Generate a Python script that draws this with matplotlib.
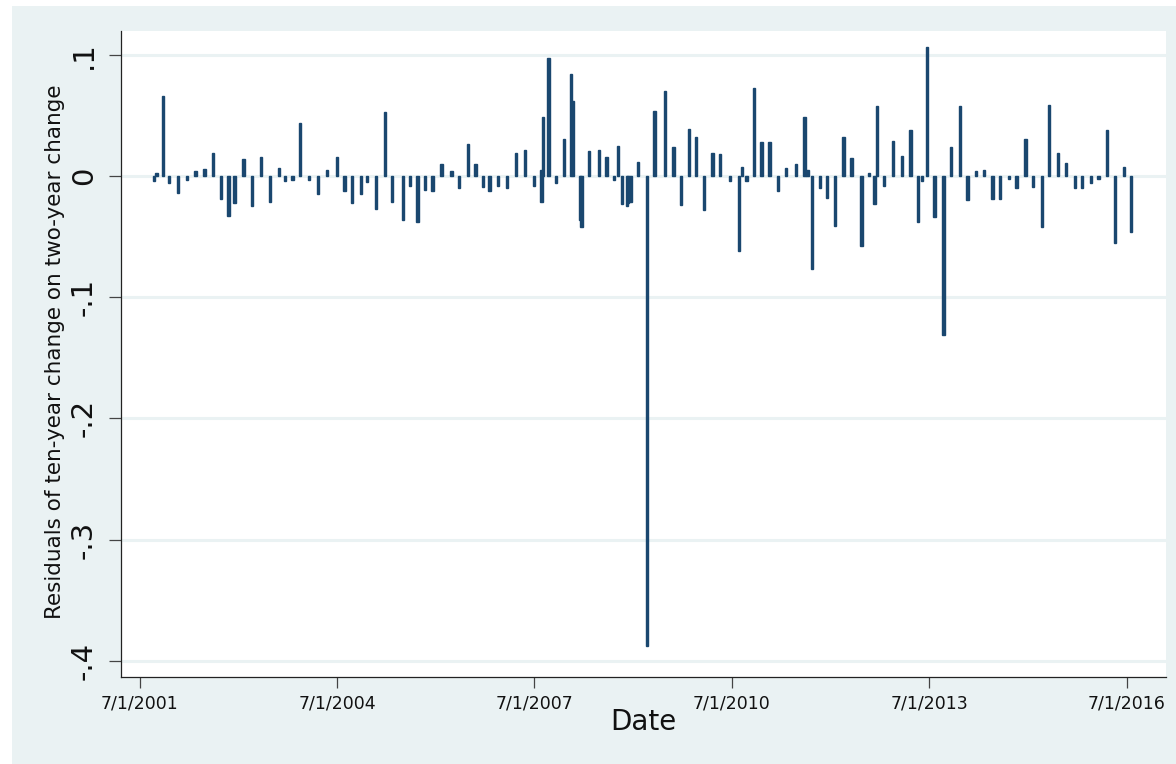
import matplotlib
matplotlib.use("Agg")
import matplotlib.pyplot as plt
import matplotlib.dates as mdates
from matplotlib.patches import Rectangle
import pandas as pd

# Event dates (FOMC announcements / policy events)
event_dates = [
    "2001-09-17", "2001-10-02", "2001-11-06", "2001-12-11",
    "2002-01-30", "2002-03-19", "2002-05-07", "2002-06-26", "2002-08-13", "2002-09-24", "2002-11-06", "2002-12-10",
    "2003-01-29", "2003-03-18", "2003-05-06", "2003-06-25", "2003-08-12", "2003-09-16", "2003-10-28", "2003-12-09",
    "2004-01-28", "2004-03-16", "2004-05-04", "2004-06-30", "2004-08-10", "2004-09-21", "2004-11-10", "2004-12-14",
    "2005-02-02", "2005-03-22", "2005-05-03", "2005-06-30", "2005-08-09", "2005-09-20", "2005-11-01", "2005-12-13",
    "2006-01-31", "2006-03-28", "2006-05-10", "2006-06-29", "2006-08-08", "2006-09-20", "2006-10-25", "2006-12-12",
    "2007-01-31", "2007-03-21", "2007-05-09", "2007-06-28", "2007-08-07", "2007-08-10", "2007-08-17", "2007-09-18",
    "2007-10-31", "2007-12-11",
    "2008-01-22", "2008-01-30", "2008-03-11", "2008-03-18", "2008-04-30", "2008-06-25", "2008-08-05", "2008-09-16",
    "2008-10-08", "2008-10-29", "2008-11-25", "2008-12-01", "2008-12-16",
    "2009-01-28", "2009-03-18", "2009-04-29", "2009-06-24", "2009-08-12", "2009-09-23", "2009-11-04", "2009-12-16",
    "2010-01-27", "2010-03-16", "2010-04-28", "2010-06-23", "2010-08-10", "2010-08-27", "2010-09-21", "2010-11-03",
    "2010-12-14",
    "2011-01-26", "2011-03-15", "2011-04-27", "2011-06-22", "2011-08-09", "2011-08-26", "2011-09-21", "2011-11-02",
    "2011-12-13",
    "2012-01-25", "2012-03-13", "2012-04-25", "2012-06-20", "2012-08-01", "2012-08-31", "2012-09-13", "2012-10-24",
    "2012-12-12",
    "2013-01-30", "2013-03-20", "2013-05-01", "2013-05-22", "2013-06-19", "2013-07-31", "2013-09-18", "2013-10-30",
    "2013-12-18",
    "2014-01-29", "2014-03-19", "2014-04-30", "2014-06-18", "2014-07-30", "2014-09-17", "2014-10-29", "2014-12-17",
    "2015-01-28", "2015-03-18", "2015-04-29", "2015-06-17", "2015-07-29", "2015-09-17", "2015-10-28", "2015-12-16",
    "2016-01-27", "2016-03-16", "2016-04-27", "2016-06-15", "2016-07-27",
]

residuals = [
    -0.004, 0.003, 0.066, -0.006,
    -0.014, -0.003, 0.004, 0.006, 0.019, -0.019, -0.033, -0.022,
    0.014, -0.025, 0.016, -0.021, 0.007, -0.004, -0.003, 0.044,
    -0.003, -0.015, 0.005, 0.016, -0.012, -0.022, -0.015, -0.005,
    -0.027, 0.053, -0.021, -0.036, -0.008, -0.038, -0.011, -0.012,
    0.010, 0.004, -0.010, 0.027, 0.010, -0.009, -0.012, -0.008,
    -0.010, 0.019, 0.022, -0.008, 0.005, -0.021, 0.049, 0.098,
    -0.006, 0.031,
    0.084, 0.062, -0.036, -0.042, 0.021, 0.022, 0.016, -0.003,
    0.025, -0.023, -0.025, -0.022, -0.021,
    0.012, -0.388, 0.054, 0.070, 0.024, -0.024, 0.039, 0.032,
    -0.028, 0.019, 0.018, -0.004, -0.062, 0.008, -0.004, 0.073,
    0.028,
    0.028, -0.012, 0.007, 0.010, 0.049, 0.005, -0.077, -0.010,
    -0.018,
    -0.041, 0.032, 0.015, -0.058, 0.003, -0.023, 0.058, -0.008,
    0.029,
    0.017, 0.038, -0.038, -0.004, 0.107, -0.034, -0.131, 0.024,
    0.058,
    -0.020, 0.004, 0.005, -0.019, -0.019, -0.002, -0.010, 0.031,
    -0.009, -0.042, 0.059, 0.019, 0.011, -0.010, -0.010, -0.006,
    -0.002, 0.038, -0.055, 0.008, -0.046,
]

x_tick_dates = ["2001-07-01", "2004-07-01", "2007-07-01", "2010-07-01", "2013-07-01", "2016-07-01"]
x_tick_labels = ["7/1/2001", "7/1/2004", "7/1/2007", "7/1/2010", "7/1/2013", "7/1/2016"]
y_ticks = [0.1, 0.0, -0.1, -0.2, -0.3, -0.4]
y_tick_labels = [".1", "0", "-.1", "-.2", "-.3", "-.4"]

BAR = "#1A476F"
BG = "#EAF2F3"
W, H = 1176, 764

fig = plt.figure(figsize=(W / 100, H / 100), dpi=100)
fig.patch.set_facecolor("white")
fig.patches.append(Rectangle((12 / W, 0), 1 - 12 / W, 1 - 6 / H, transform=fig.transFigure,
                             facecolor=BG, edgecolor="none", zorder=-5))

ax = fig.add_axes([121 / W, 1 - 677 / H, (1166 - 121) / W, (677 - 31) / H])
ax.set_facecolor("white")

xd = mdates.date2num(pd.to_datetime(event_dates).to_pydatetime())
ax.bar(xd, residuals, width=13, color=BAR, edgecolor=BAR, linewidth=1.0, zorder=3)

ax.set_xlim(mdates.date2num(pd.Timestamp("2001-03-19")), mdates.date2num(pd.Timestamp("2017-02-05")))
ax.set_ylim(-0.4135, 0.1199)

ax.set_xticks(mdates.date2num(pd.to_datetime(x_tick_dates).to_pydatetime()))
ax.set_xticklabels(x_tick_labels)
ax.set_yticks(y_ticks)
ax.set_yticklabels(y_tick_labels, rotation=90, va="center")

ax.yaxis.grid(True, color=BG, linewidth=2.2)
ax.xaxis.grid(False)
ax.set_axisbelow(True)

for s in ["top", "right"]:
    ax.spines[s].set_visible(False)
for s in ["left", "bottom"]:
    ax.spines[s].set_color("#222222")
    ax.spines[s].set_linewidth(0.9)

ax.tick_params(axis="x", length=8, width=0.9, color="#444444", pad=4.3, labelsize=12.5, labelcolor="#111111")
ax.tick_params(axis="y", length=8.6, width=0.9, color="#444444", pad=8, labelsize=21, labelcolor="#111111")

fig.text(643 / W, 1 - 730 / H, "Date", ha="center", va="baseline", fontsize=20, color="#111111")
fig.text(55 / W, 1 - 352 / H, "Residuals of ten-year change on two-year change", rotation=90,
         ha="center", va="center", fontsize=15.5, color="#111111")

fig.savefig("out.png", dpi=100, facecolor=fig.get_facecolor())
